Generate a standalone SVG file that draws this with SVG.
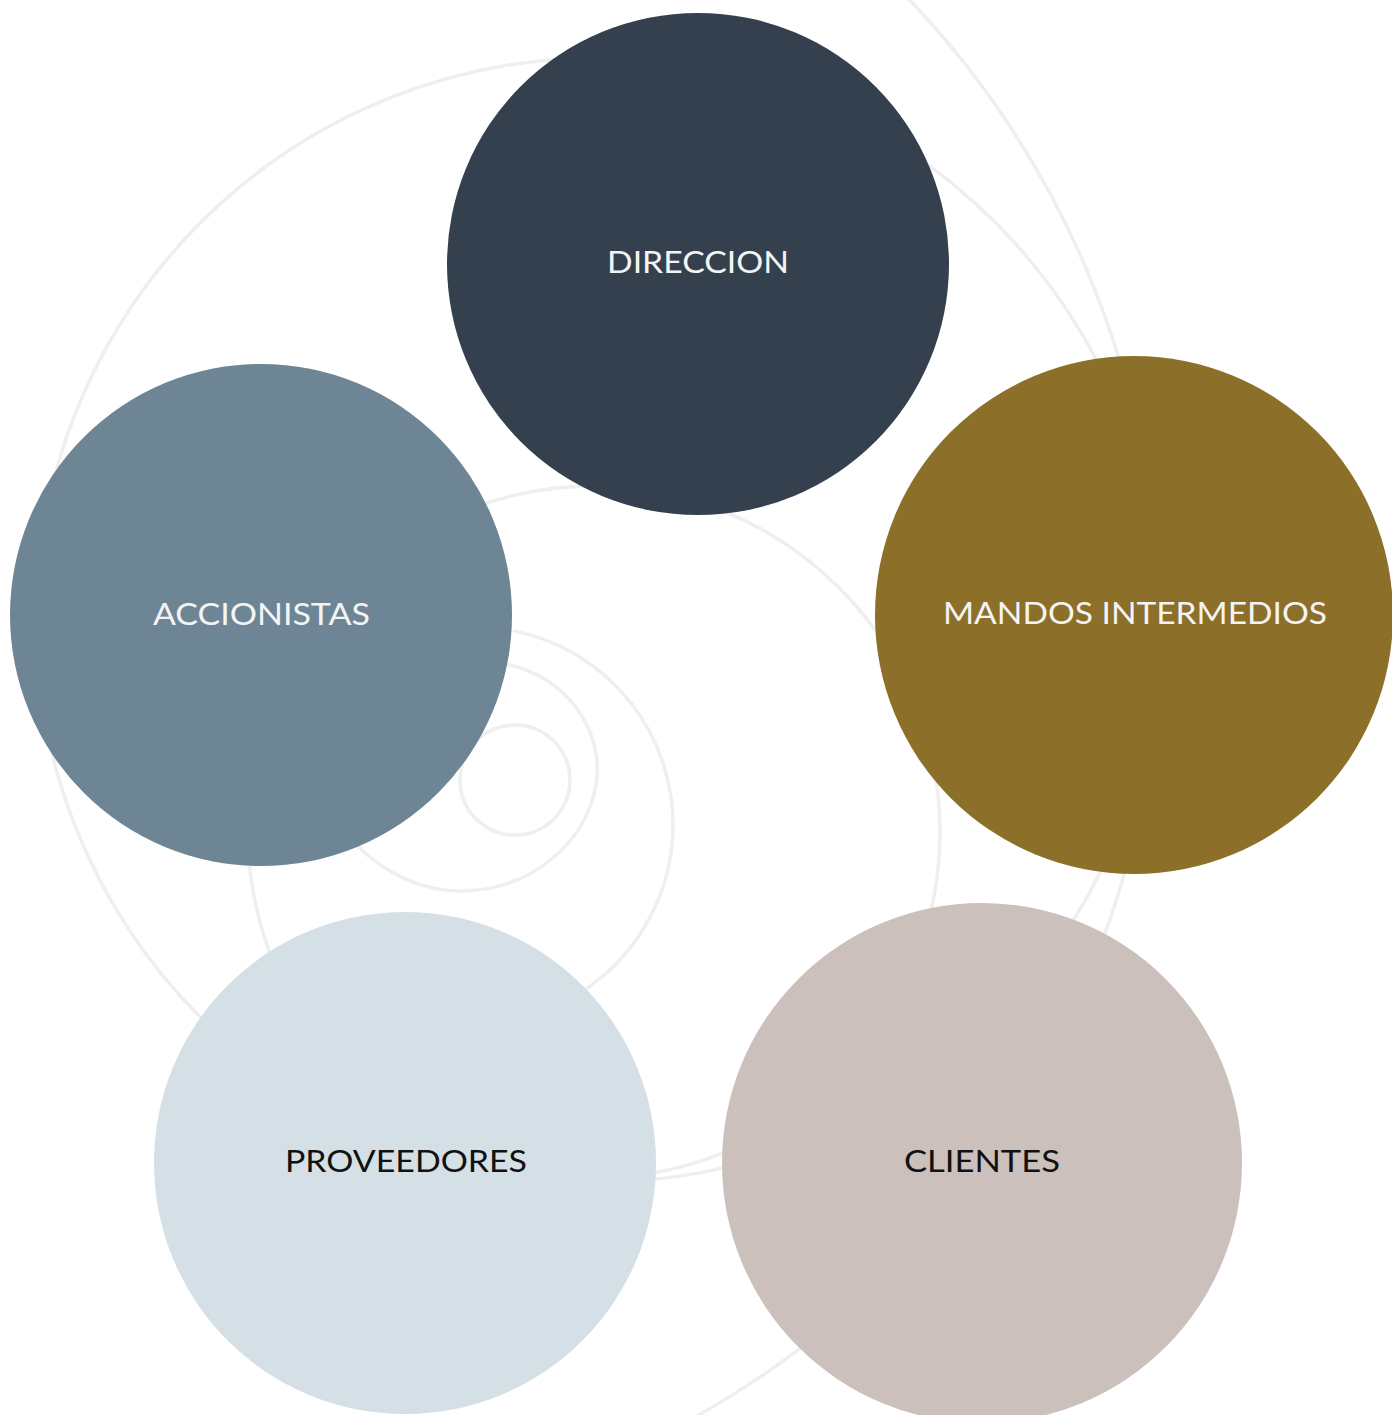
<svg xmlns="http://www.w3.org/2000/svg" width="1392" height="1415" viewBox="0 0 1392 1415">
  <style>
    .deco { fill: none; stroke: #efefef; stroke-width: 3.5; }
    .lbl { font-family: Lato, "Open Sans", "Liberation Sans", sans-serif; font-size: 30px; font-weight: 400; text-anchor: middle; }
    .light { fill: #f4f4f4; }
    .dark { fill: #111111; }
  </style>
  <rect x="0" y="0" width="1392" height="1415" fill="#ffffff"/>
  <g id="background">
    <circle class="deco" cx="251" cy="625" r="908"/>
    <circle class="deco" cx="598" cy="620" r="562"/>
    <circle class="deco" cx="594" cy="832" r="346"/>
    <path class="deco" d="M 512.8 630.6 A 198 198 0 0 1 492.3 1022.2"/>
    <path class="deco" d="M 355 843 C 385 875, 425 892, 465 891 C 530 889, 585 845, 596 785 C 605 730, 565 675, 505 664"/>
    <circle class="deco" cx="515" cy="780" r="55"/>
  </g>
  <g id="connectors"></g>
  <g id="node-direccion">
    <circle cx="698" cy="264" r="251" fill="#35404e"/>
    <text class="lbl light" x="698" y="273" textLength="182" lengthAdjust="spacingAndGlyphs">DIRECCION</text>
  </g>
  <g id="node-accionistas">
    <circle cx="261" cy="615" r="251" fill="#6d8594"/>
    <text class="lbl light" x="261.5" y="625" textLength="217" lengthAdjust="spacingAndGlyphs">ACCIONISTAS</text>
  </g>
  <g id="node-mandos">
    <circle cx="1134" cy="615" r="259" fill="#8c6f28"/>
    <text class="lbl light" x="1135" y="624" textLength="384" lengthAdjust="spacingAndGlyphs">MANDOS INTERMEDIOS</text>
  </g>
  <g id="node-proveedores">
    <circle cx="405" cy="1163" r="251" fill="#d5e0e6"/>
    <text class="lbl dark" x="406" y="1172" textLength="242" lengthAdjust="spacingAndGlyphs">PROVEEDORES</text>
  </g>
  <g id="node-clientes">
    <circle cx="982" cy="1163" r="260" fill="#cbc0bb"/>
    <text class="lbl dark" x="982" y="1172" textLength="156" lengthAdjust="spacingAndGlyphs">CLIENTES</text>
  </g>
</svg>
